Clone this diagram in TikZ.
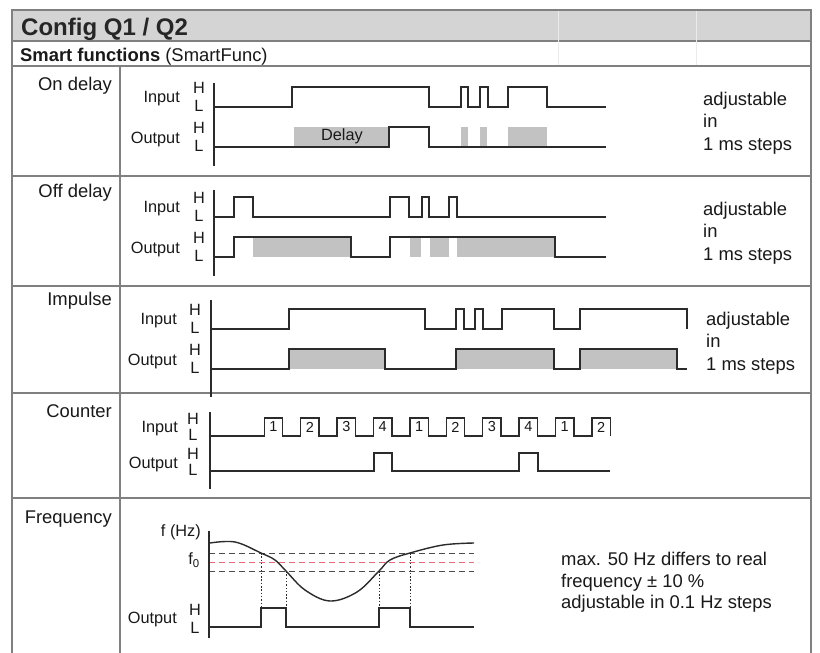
\documentclass[tikz,border=0pt]{standalone}
\usepackage{fontspec}
\setmainfont{Liberation Sans}
\usetikzlibrary{positioning}
\definecolor{tabline}{HTML}{808080}
\definecolor{headgray}{HTML}{D4D4D4}
\definecolor{shade}{HTML}{C2C2C2}
\definecolor{sigline}{HTML}{2B2B2B}
\definecolor{fnull}{HTML}{E86A78}
\tikzset{
  % tabell
  tab/.style={draw=tabline,line width=1.4pt},
  ghost/.style={draw=black!8,line width=0.6pt},
  txt/.style={font=\fontsize{18.4}{22}\selectfont,inner sep=0pt,text=black!90},
  head/.style={font=\fontsize{24}{28}\selectfont\bfseries,inner sep=0pt,text=black!85},
  % signaler
  sig/.style={draw=sigline,line width=1.4pt},
  shaded/.style={fill=shade,draw=none},
  lbl/.style={font=\fontsize{16.3}{18}\selectfont,inner sep=0pt,text=black!90},
  num/.style={font=\fontsize{14.5}{14}\selectfont,inner sep=0pt,text=black!90},
  lev/.style={draw=black!70,line width=1pt,dash pattern=on 6pt off 4pt},
  levf/.style={draw=fnull,line width=1pt,dash pattern=on 6pt off 4pt},
  drop/.style={draw=sigline,line width=0.9pt,dash pattern=on 1.5pt off 1.8pt},
}
\begin{document}
\begin{tikzpicture}[x=1pt,y=-1pt]
  \useasboundingbox (0,0) rectangle (820,653);
  \fill[white] (0,0) rectangle (820,653);
  % tabell
  \draw[tab,fill=headgray] (12,10) rectangle (811,41);
  \draw[ghost] (558,11) -- (558,65);
  \draw[ghost] (696,11) -- (696,65);
  \draw[tab] (12,41) -- (12,653);
  \draw[tab] (811,41) -- (811,653);
  \draw[tab] (120,66) -- (120,653);
  \foreach \y in {66,176,286,393,498}
    \draw[tab] (12,\y) -- (811,\y);
  \node[head,anchor=base west] (title) at (21,35) {Config Q1 / Q2};
  \node[txt,anchor=base west] (smart) at (20,61) {\textbf{Smart functions} (SmartFunc)};
  \node[txt,anchor=base east] (ondelay) at (112,90) {On delay};
  \node[txt,anchor=base east] (offdelay) at (112,197) {Off delay};
  \node[txt,anchor=base east] (impulse) at (112,305) {Impulse};
  \node[txt,anchor=base east] (counter) at (112,417) {Counter};
  \node[txt,anchor=base east] (frequency) at (112,523) {Frequency};
  \foreach \x/\y/\n in {703/105/a, 703/215/b, 706/325/c} {
    \node[txt,anchor=base west] (adj\n) at (\x,\y) {adjustable};
    \node[txt,anchor=base west] (in\n) at (\x,\y+22) {in};
    \node[txt,anchor=base west] (ms\n) at (\x,\y+45) {1 ms steps};
  }
  \node[txt,anchor=base west] (fq1) at (561,565) {max. 50 Hz differs to real};
  \node[txt,anchor=base west] (fq2) at (561,587) {frequency ± 10 \%};
  \node[txt,anchor=base west] (fq3) at (561,608) {adjustable in 0.1 Hz steps};
  % etiketter Input/Output H L
  \foreach \ax/\hx/\ih/\il/\oh/\ol/\n in
      {180/199/87/107/127/147/a, 180/199/197/217/237/257/b,
       177/195/309/329/349/369/c, 178/193/418/436/453/471/d} {
    \node[lbl,anchor=base east] (inp\n) at (\ax,{(\ih+\il)/2+5}) {Input};
    \node[lbl] (ih\n) at (\hx,\ih+1) {H};
    \node[lbl] (il\n) at (\hx,\il-1) {L};
    \node[lbl,anchor=base east] (out\n) at (\ax,{(\oh+\ol)/2+6}) {Output};
    \node[lbl] (oh\n) at (\hx,\oh+1) {H};
    \node[lbl] (ol\n) at (\hx,\ol-1) {L};
  }
  % on delay
  \fill[shaded] (294,127) rectangle (389,147);
  \fill[shaded] (461,127) rectangle (468,147);
  \fill[shaded] (480,127) rectangle (487,147);
  \fill[shaded] (508,127) rectangle (547,147);
  \node[lbl] (delay) at (342,136) {Delay};
  \draw[sig] (214,83) -- (214,166);
  \draw[sig] (214,107) -| (292,87) -| (429,107) -| (461,87) -| (468,107) -| (480,87)
    -| (488,107) -| (508,87) -| (547,107) -- (606,107);
  \draw[sig] (214,147) -| (389,127) -| (429,147) -- (606,147);
  % off delay
  \fill[shaded] (253,237) rectangle (351,257);
  \fill[shaded] (410,237) rectangle (421,257);
  \fill[shaded] (430,237) rectangle (449,257);
  \fill[shaded] (457,237) rectangle (555,257);
  \draw[sig] (214,190) -- (214,276);
  \draw[sig] (214,217) -| (234,197) -| (253,217) -| (390,197) -| (409,217) -| (422,197)
    -| (429,217) -| (449,197) -| (457,217) -- (606,217);
  \draw[sig] (214,257) -| (234,237) -| (351,257) -| (390,237) -| (555,257) -- (606,257);
  % impulse
  \fill[shaded] (289,349) rectangle (385,369);
  \fill[shaded] (456,349) rectangle (554,369);
  \fill[shaded] (580,349) rectangle (677,369);
  \draw[sig] (211,300) -- (211,397);
  \draw[sig] (211,329) -| (289,309) -| (425,329) -| (456,309) -| (464,329) -| (475,309)
    -| (483,329) -| (502,309) -| (554,329) -| (580,309) -| (687,329);
  \draw[sig] (211,369) -| (289,349) -| (385,369) -| (456,349) -| (554,369) -| (580,349)
    -| (677,369) -- (687,369);
  % counter
  \draw[sig] (210,412) -- (210,489);
  \draw[sig] (210,436) foreach \k in {0,...,9} {
    -| ({264.2+36.4*\k},418) -| ({282.7+36.4*\k},436) };
  \foreach \k in {0,...,9} {
    \pgfmathtruncatemacro{\cnt}{mod(\k,4)+1}
    \node[num] (cnt\k) at ({273.5+36.4*\k},427) {\cnt};
  }
  \draw[sig] (210,471) -| (374,453) -| (392,471) -| (519,453) -| (538,471) -- (610,471);
  % frequency
  \node[lbl,anchor=east] (fhz) at (201,532) {f (Hz)};
  \node[lbl,anchor=east] (fnull) at (200,560) {f\textsubscript{0}};
  \node[lbl,anchor=base east] (oute) at (177,623) {Output};
  \node[lbl] (ohe) at (195,610) {H};
  \node[lbl] (ole) at (195,628) {L};
  \draw[lev] (209,553) -- (474,553);
  \draw[levf] (209,562) -- (474,562);
  \draw[lev] (209,571) -- (474,571);
  \draw[drop] (261,553) -- (261,608);
  \draw[drop] (286,571) -- (286,608);
  \draw[drop] (379,571) -- (379,608);
  \draw[drop] (410,553) -- (410,608);
  \draw[sig] (209,531) -- (209,638);
  \draw[sig] plot[smooth,tension=0.6] coordinates {(210,543) (235,542) (261,553)
    (275,560) (286,571) (305,590) (330,601) (357,592) (379,571) (390,560) (410,553)
    (443,545) (474,543)};
  \draw[sig] (209,627) -| (261,608) -| (286,627) -| (379,608) -| (410,627) -- (474,627);
\end{tikzpicture}
\end{document}
